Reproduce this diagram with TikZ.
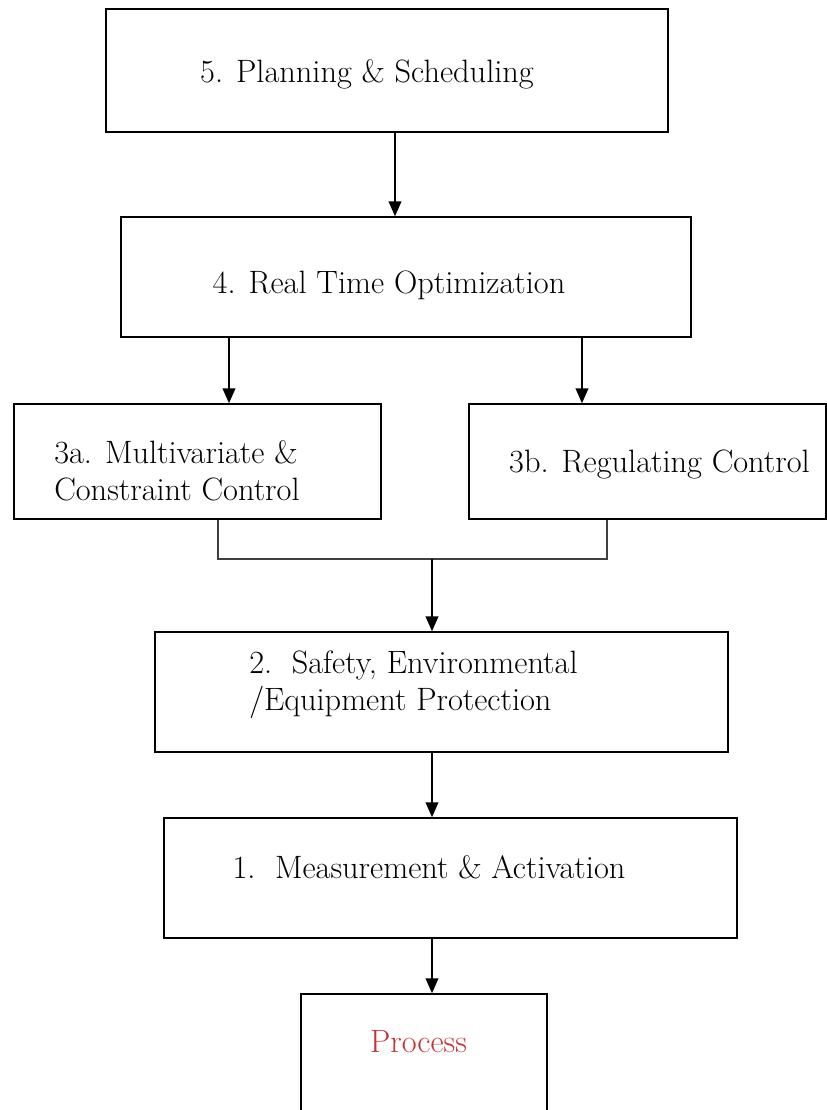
\documentclass[tikz,border=0pt]{standalone}
\usepackage{tikz}
\usetikzlibrary{arrows.meta,calc}
\definecolor{procred}{RGB}{196,52,52}

\begin{document}
\begin{tikzpicture}[
    x=0.025cm, y=-0.025cm,
    blk/.style={draw,line width=1.1pt,inner sep=0pt},
    lbl/.style={inner sep=0pt,font=\fontsize{23}{26}\selectfont},
    arr/.style={-{Triangle[width=9pt,length=10.5pt]},line width=1.1pt},
    joinline/.style={line width=0.8pt,black!75}
]
\clip (0,0) rectangle (827,1110);
% boxes
\node[blk,minimum width=14.05cm,minimum height=3.075cm] (plan) at (387,70.5) {};
\node[blk,minimum width=14.25cm,minimum height=3cm] (rto) at (406,277) {};
\node[blk,minimum width=9.175cm,minimum height=2.875cm] (mvc) at (197.5,461.5) {};
\node[blk,minimum width=8.925cm,minimum height=2.875cm] (reg) at (647.5,461.5) {};
\node[blk,minimum width=14.325cm,minimum height=3cm] (safe) at (441.5,692) {};
\node[blk,minimum width=14.325cm,minimum height=3cm] (meas) at (450.5,878) {};
\node[blk,minimum width=6.15cm,minimum height=3.4cm] (proc) at (424,1062) {};
% labels
\node[lbl,anchor=base] (plan-t) at (367,83) {5. Planning \& Scheduling};
\node[lbl,anchor=base] (rto-t) at (389,293) {4. Real Time Optimization};
\node[lbl,anchor=base west,align=left] (mvc-t) at (54,500) {3a. Multivariate \&\\Constraint Control};
\node[lbl,anchor=base] (reg-t) at (659.5,472) {3b. Regulating Control};
\node[lbl,anchor=base west,align=left] (safe-t) at (249,710) {2.\ \ Safety, Environmental\\/Equipment Protection};
\node[lbl,anchor=base] (meas-t) at (429,878) {1.\ \ Measurement \& Activation};
\node[lbl,anchor=base,text=procred] (proc-t) at (418.5,1052) {Process};
% connectors
\coordinate (a5) at ($(plan.south)+(8,0)$);
\coordinate (a4l) at ($(rto.south)+(-177,0)$);
\coordinate (a4r) at ($(rto.south)+(176,0)$);
\coordinate (jl) at ($(mvc.south)+(20.5,0)$);
\coordinate (jr) at ($(reg.south)+(-40.5,0)$);
\coordinate (jm) at (432,559);
\draw[arr] (a5) -- (a5 |- rto.north);
\draw[arr] (a4l) -- (a4l |- mvc.north);
\draw[arr] (a4r) -- (a4r |- reg.north);
\draw[joinline] (jl) -- (jl |- jm) -- (jr |- jm) -- (jr);
\draw[arr] (jm) -- (jm |- safe.north);
\draw[arr] (safe.south -| jm) -- (meas.north -| jm);
\draw[arr] (meas.south -| jm) -- (proc.north -| jm);
\end{tikzpicture}
\end{document}
